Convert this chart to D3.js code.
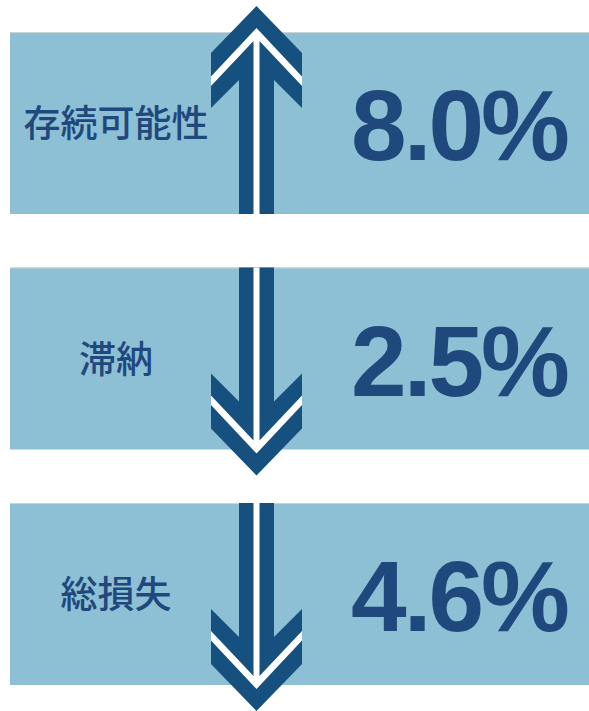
<!DOCTYPE html>
<html>
<head>
<meta charset="utf-8">
<script src="https://cdn.jsdelivr.net/npm/d3@7"></script>
<style>
html,body{margin:0;padding:0;background:#fff;}
svg{display:block;}
</style>
</head>
<body>
<svg id="chart" width="589" height="711"></svg>
<script>
const categories = ["存続可能性", "滞納", "総損失"];
const values = [8.0, 2.5, 4.6];
const directions = ["up", "down", "down"];

const W = 589, H = 711;
const svg = d3.select("#chart");

const y = d3.scaleBand().domain(categories).range([32, 685]).paddingInner(0.2272).paddingOuter(0);
const panelX0 = 10, panelX1 = 589;
const arrowX = 256.5;
const fmt = d3.format(".1f");

const panelColor = "#8dbfd5";
const arrowColor = "#15507f";
const textColor = "#1f497c";

const rows = svg.selectAll("g.row").data(categories).join("g").attr("class", "row");

rows.append("rect")
  .attr("x", panelX0).attr("y", d => y(d))
  .attr("width", panelX1 - panelX0).attr("height", y.bandwidth())
  .attr("fill", panelColor);
rows.append("line")
  .attr("x1", panelX0).attr("x2", panelX1)
  .attr("y1", d => y(d) + 0.5).attr("y2", d => y(d) + 0.5)
  .attr("stroke", "#c9d3d8").attr("stroke-width", 1);

rows.append("text")
  .attr("x", 116).attr("y", d => y(d) + y.bandwidth() / 2 - 2)
  .attr("text-anchor", "middle").attr("dominant-baseline", "central")
  .attr("font-family", "'Noto Sans CJK JP', sans-serif")
  .attr("font-size", 37).attr("font-weight", 500)
  .attr("fill", textColor)
  .text(d => d);

rows.append("text")
  .attr("x", 459).attr("y", d => y(d) + y.bandwidth() / 2 + 37)
  .attr("text-anchor", "middle")
  .attr("font-family", "'Liberation Sans', Arial, sans-serif")
  .attr("font-size", 100).attr("font-weight", 700)
  .attr("letter-spacing", -3)
  .attr("fill", textColor)
  .text((d, i) => fmt(values[i]) + "%");

// arrows: local coords with tip at (0,0) and y increasing away from tip
function arrowPath(L) {
  const p = d3.path();
  p.moveTo(0, 0);
  p.lineTo(45.5, 47);
  p.lineTo(45.5, 102);
  p.lineTo(17.5, 74);
  p.lineTo(17.5, L);
  p.lineTo(-17.5, L);
  p.lineTo(-17.5, 74);
  p.lineTo(-45.5, 102);
  p.lineTo(-45.5, 47);
  p.closePath();
  return p.toString();
}
function whitePath(L) {
  const p = d3.path();
  p.moveTo(-45.5, 70.5);
  p.lineTo(0, 22);
  p.lineTo(45.5, 70.5);
  p.lineTo(45.5, 80);
  p.lineTo(3, 35);
  p.lineTo(3, L);
  p.lineTo(-3, L);
  p.lineTo(-3, 35);
  p.lineTo(-45.5, 80);
  p.closePath();
  return p.toString();
}

rows.each(function(d, i) {
  const top = y(d), bot = y(d) + y.bandwidth();
  const g = d3.select(this).append("g");
  let tipY, L, sy;
  if (directions[i] === "up") { tipY = top - 26; L = bot - tipY; sy = 1; }
  else { tipY = bot + 26; L = tipY - top; sy = -1; }
  g.attr("transform", `translate(${arrowX},${tipY}) scale(1,${sy})`);
  g.append("path").attr("d", arrowPath(L)).attr("fill", arrowColor);
  g.append("path").attr("d", whitePath(L)).attr("fill", "#ffffff");
});
</script>
</body>
</html>
